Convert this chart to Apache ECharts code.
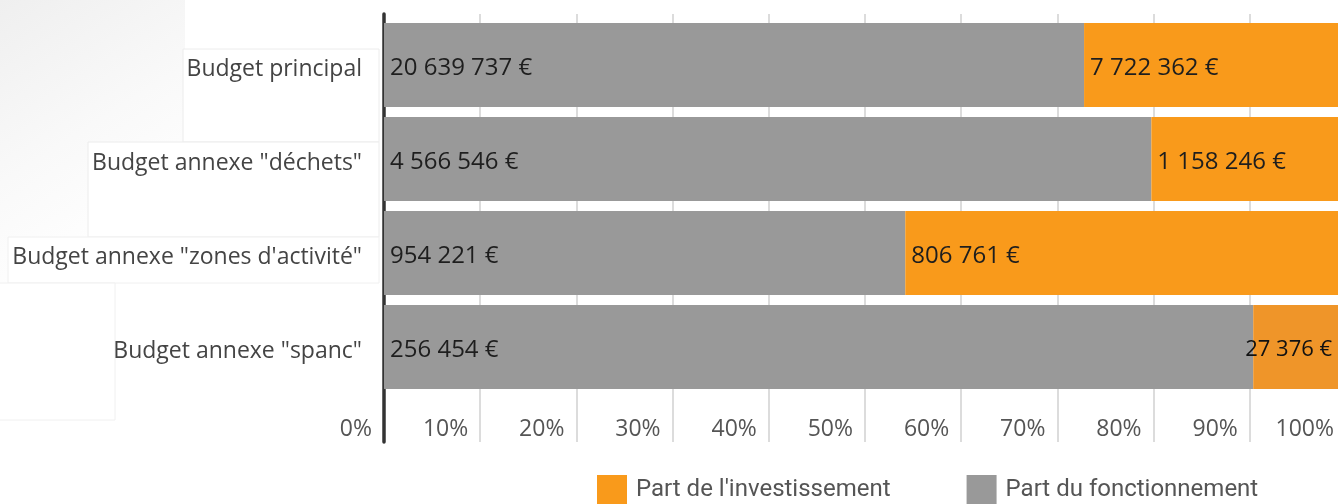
<!DOCTYPE html>
<html>
<head>
<meta charset="utf-8">
<script src="https://cdn.jsdelivr.net/npm/echarts@6/dist/echarts.min.js"></script>
<style>
  html, body { margin: 0; padding: 0; background: #fff; overflow: hidden; }
  /* le 100 % tombe un peu au-delà du bord droit dans l'original */
  #chart { width: 1346px; height: 504px; }
</style>
</head>
<body>
<div id="chart"></div>
<script>
// données
var budgets = ['Budget principal', 'Budget annexe "déchets"', 'Budget annexe "zones d\'activité"', 'Budget annexe "spanc"'];
var fonctionnement = [20639737, 4566546, 954221, 256454];
var investissement = [7722362, 1158246, 806761, 27376];
var tickLabels = ['0%', '10%', '20%', '30%', '40%', '50%', '60%', '70%', '80%', '90%', '100%'];

function euros(n) {
  return String(n).replace(/\B(?=(\d{3})+(?!\d))/g, ' ') + ' €';
}

// part en % de chaque budget
var pctFonct = fonctionnement.map(function (v, i) { return v / (v + investissement[i]) * 100; });
var pctInvest = investissement.map(function (v, i) { return v / (v + fonctionnement[i]) * 100; });

var labelStyle = {
  show: true,
  position: 'insideLeft',
  distance: 6,
  offset: [0, 3],
  fontFamily: 'Open Sans',
  fontSize: 24,
  color: '#1e1e1e'
};

var myChart = echarts.init(document.getElementById('chart'));
var option = {
  backgroundColor: '#fff',
  animation: false,
  graphic: [
    {
      type: 'rect', z: -10, silent: true,
      shape: { x: 0, y: 0, width: 185, height: 290 },
      style: {
        fill: new echarts.graphic.LinearGradient(0, 0, 1, 1, [
          { offset: 0, color: '#efefef' },
          { offset: 0.45, color: '#f9f9f9' },
          { offset: 0.8, color: '#ffffff' }
        ])
      }
    },
    { type: 'rect', z: -9, silent: true, shape: { x: 183, y: 49, width: 196, height: 93 }, style: { fill: '#fff', stroke: '#ececec', lineWidth: 1 } },
    { type: 'rect', z: -9, silent: true, shape: { x: 88, y: 142, width: 291, height: 95 }, style: { fill: '#fff', stroke: '#ececec', lineWidth: 1 } },
    { type: 'rect', z: -9, silent: true, shape: { x: 8, y: 237, width: 371, height: 46 }, style: { fill: '#fff', stroke: '#f0f0f0', lineWidth: 1 } },
    { type: 'rect', z: -9, silent: true, shape: { x: -1, y: 283, width: 116, height: 137 }, style: { fill: '#fff', stroke: '#f0f0f0', lineWidth: 1 } }
  ],
  legend: {
    data: ["Part de l'investissement", 'Part du fonctionnement'],
    left: 597,
    top: 475,
    padding: 0,
    icon: 'rect',
    itemWidth: 30,
    itemHeight: 30,
    itemGap: 76,
    textStyle: { fontFamily: 'Roboto', fontSize: 24, color: '#555', padding: [0, 0, 0, 4] }
  },
  grid: [
    { left: 384, right: 0, top: 18, height: 376 },
    { left: 384, right: 0, top: 14, height: 428 }
  ],
  xAxis: [
    { gridIndex: 0, type: 'value', min: 0, max: 100, show: false },
    {
      gridIndex: 1, type: 'value', min: 0, max: 100, interval: 10,
      axisLine: { show: false },
      axisTick: { show: false },
      splitLine: { show: true, lineStyle: { color: '#dcdcdc', width: 2 } },
      axisLabel: {
        inside: true,
        margin: 13,
        align: 'right',
        verticalAlign: 'middle',
        padding: [0, 12, 0, 0],
        fontFamily: 'Open Sans',
        fontSize: 23,
        color: '#555',
        formatter: function (v) { return tickLabels[Math.round(v / 10)]; }
      }
    }
  ],
  yAxis: [
    {
      gridIndex: 0, type: 'category', inverse: true, data: budgets,
      axisLine: { show: false },
      axisTick: { show: false },
      axisLabel: {
        margin: 22,
        formatter: function (v) { return '{c|' + v + '}'; },
        rich: { c: { fontFamily: 'Open Sans', fontSize: 23, color: '#444', padding: [8, 0, 0, 0] } }
      }
    },
    {
      gridIndex: 1, type: 'value', min: 0, max: 1,
      axisLine: { show: true, onZero: false, lineStyle: { color: '#333', width: 3.5 } },
      axisTick: { show: false },
      axisLabel: { show: false },
      splitLine: { show: false }
    }
  ],
  series: [
    {
      name: 'Part du fonctionnement',
      type: 'bar',
      stack: 'total',
      barWidth: 84,
      xAxisIndex: 0,
      yAxisIndex: 0,
      itemStyle: { color: '#999999' },
      label: Object.assign({}, labelStyle, {
        formatter: function (p) { return euros(fonctionnement[p.dataIndex]); }
      }),
      data: pctFonct,
      z: 3
    },
    {
      name: "Part de l'investissement",
      type: 'bar',
      stack: 'total',
      barWidth: 84,
      xAxisIndex: 0,
      yAxisIndex: 0,
      itemStyle: { color: '#f99a1b' },
      label: Object.assign({}, labelStyle, {
        formatter: function (p) { return euros(investissement[p.dataIndex]); }
      }),
      data: pctInvest.map(function (v, i) {
        // le dernier bloc est d'un orange un peu plus terne dans l'original
        return i === 3 ? { value: v, itemStyle: { color: '#ef9529' }, label: { offset: [-14, 3], fontSize: 22, color: '#111' } } : v;
      }),
      z: 3
    }
  ]
};
myChart.setOption(option);
</script>
</body>
</html>
